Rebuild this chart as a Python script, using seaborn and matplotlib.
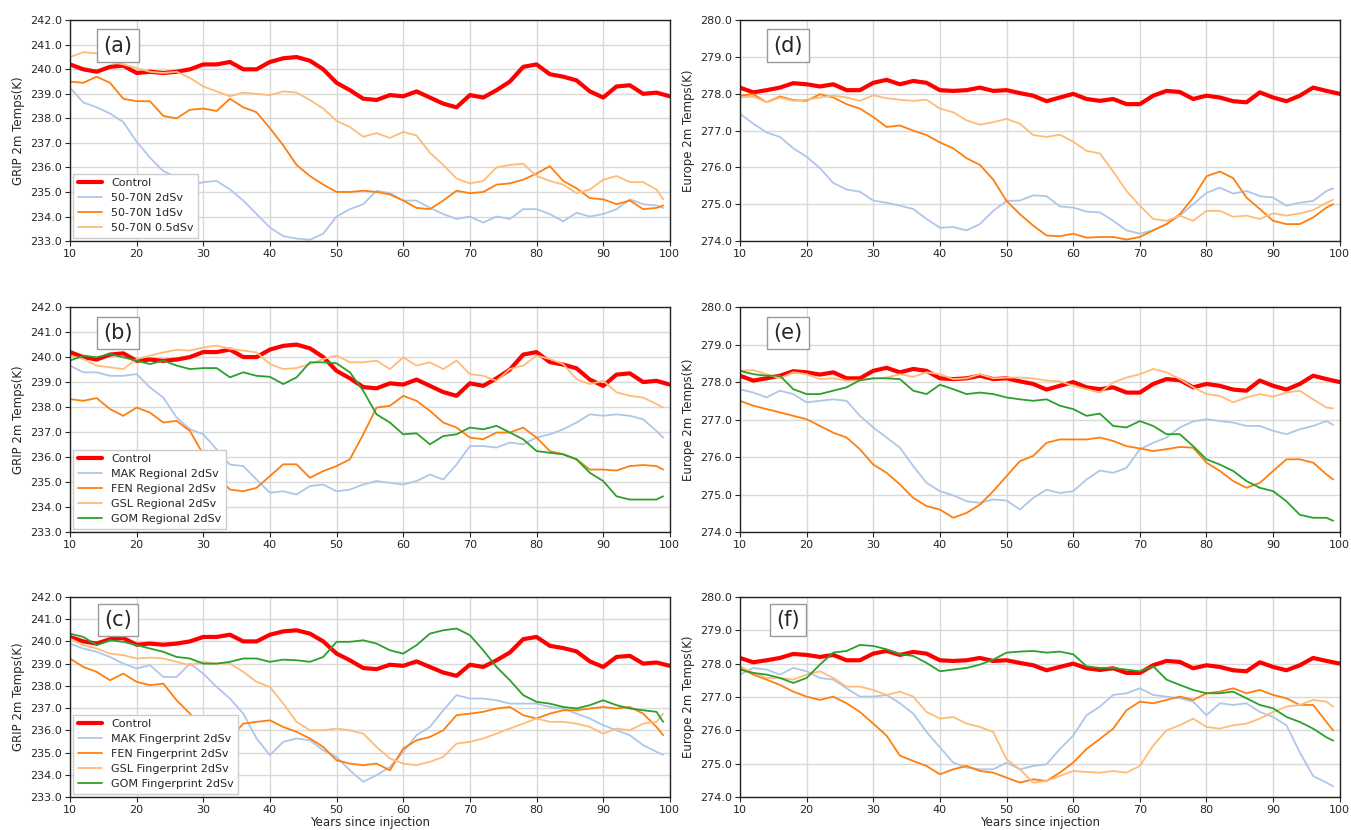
import numpy as np
import pandas as pd
import matplotlib
matplotlib.use("Agg")
import matplotlib.pyplot as plt
import seaborn as sns
from matplotlib.ticker import FormatStrFormatter

sns.set_style("ticks")
plt.rcParams['font.family'] = ['DejaVu Sans']

# ---------------- data ----------------
YEARS_CTL = list(range(10, 101, 2))
YEARS_EXP = list(range(10, 99, 2)) + [99]

GRIP_CONTROL = [240.2, 240.0, 239.9, 240.1, 240.15, 239.85, 239.9, 239.85, 239.9, 240.0,
                240.2, 240.2, 240.3, 240.0, 240.0, 240.3, 240.45, 240.5, 240.35, 240.0,
                239.45, 239.15, 238.8, 238.75, 238.95, 238.9, 239.1, 238.85, 238.6, 238.45,
                238.95, 238.85, 239.15, 239.5, 240.1, 240.2, 239.8, 239.7, 239.55, 239.1,
                238.85, 239.3, 239.35, 239.0, 239.05, 238.9]
EUR_CONTROL = [278.17, 278.04, 278.1, 278.17, 278.29, 278.26, 278.2, 278.26, 278.1, 278.1,
               278.3, 278.38, 278.26, 278.35, 278.3, 278.1, 278.08, 278.1, 278.17, 278.08,
               278.1, 278.02, 277.95, 277.8, 277.9, 278.0, 277.86, 277.81, 277.86, 277.72,
               277.72, 277.95, 278.08, 278.05, 277.86, 277.95, 277.9, 277.8, 277.77, 278.04,
               277.9, 277.8, 277.95, 278.17, 278.08, 278.0]

# panel (a): GRIP, 50-70N
GRIP_5070_2 = [239.25, 238.65, 238.45, 238.2, 237.85, 237.05, 236.4, 235.85, 235.6, 235.25,
               235.4, 235.45, 235.1, 234.65, 234.1, 233.55, 233.2, 233.1, 233.05, 233.3,
               234.0, 234.3, 234.5, 235.05, 234.95, 234.65, 234.65, 234.35, 234.1, 233.9,
               234.0, 233.75, 234.0, 233.9, 234.3, 234.3, 234.1, 233.8, 234.15, 234.0,
               234.1, 234.3, 234.7, 234.5, 234.45, 234.35]
GRIP_5070_1 = [239.5, 239.45, 239.7, 239.45, 238.8, 238.7, 238.7, 238.1, 238.0, 238.35,
               238.4, 238.3, 238.8, 238.45, 238.25, 237.6, 236.9, 236.1, 235.65, 235.3,
               235.0, 235.0, 235.05, 235.0, 234.9, 234.65, 234.35, 234.3, 234.65, 235.05,
               234.95, 235.0, 235.3, 235.35, 235.5, 235.75, 236.05, 235.45, 235.15, 234.75,
               234.7, 234.5, 234.65, 234.3, 234.35, 234.45]
GRIP_5070_05 = [240.5, 240.7, 240.65, 240.3, 240.2, 240.05, 239.9, 239.85, 239.9, 239.65,
                239.3, 239.1, 238.9, 239.05, 239.0, 238.95, 239.1, 239.05, 238.75, 238.4,
                237.9, 237.65, 237.25, 237.4, 237.2, 237.45, 237.3, 236.6, 236.1, 235.55,
                235.35, 235.45, 236.0, 236.1, 236.15, 235.65, 235.45, 235.3, 234.95, 235.1,
                235.5, 235.65, 235.4, 235.4, 235.1, 234.7]

# panel (d): Europe, 50-70N
EUR_5070_2 = [277.46, 277.19, 276.95, 276.83, 276.52, 276.29, 275.98, 275.58, 275.4, 275.34,
              275.1, 275.04, 274.96, 274.87, 274.6, 274.36, 274.38, 274.29, 274.46, 274.82,
              275.09, 275.1, 275.24, 275.22, 274.94, 274.91, 274.8, 274.78, 274.55, 274.29,
              274.2, 274.29, 274.46, 274.69, 275.0, 275.31, 275.45, 275.29, 275.36, 275.22,
              275.18, 274.96, 275.04, 275.09, 275.36, 275.43]
EUR_5070_1 = [277.95, 277.99, 277.77, 277.93, 277.83, 277.81, 277.99, 277.9, 277.72, 277.6,
              277.37, 277.1, 277.14, 277.0, 276.88, 276.68, 276.52, 276.25, 276.07, 275.67,
              275.09, 274.73, 274.42, 274.15, 274.13, 274.2, 274.09, 274.11, 274.11, 274.04,
              274.11, 274.29, 274.46, 274.73, 275.18, 275.76, 275.89, 275.71, 275.18, 274.87,
              274.55, 274.46, 274.46, 274.64, 274.91, 275.0]
EUR_5070_05 = [277.9, 277.93, 277.77, 277.9, 277.81, 277.84, 277.9, 277.95, 277.9, 277.81,
               277.96, 277.88, 277.84, 277.81, 277.84, 277.6, 277.5, 277.28, 277.16, 277.23,
               277.32, 277.19, 276.88, 276.83, 276.89, 276.7, 276.45, 276.38, 275.89, 275.36,
               274.96, 274.6, 274.55, 274.69, 274.55, 274.82, 274.82, 274.66, 274.69, 274.6,
               274.75, 274.69, 274.75, 274.84, 275.04, 275.12]

# panel (b): GRIP, Regional 2dSv
GRIP_REG_MAK = [239.66, 239.39, 239.39, 239.25, 239.25, 239.32, 238.79, 238.38, 237.58, 237.11,
                236.91, 236.31, 235.7, 235.64, 235.1, 234.57, 234.63, 234.5, 234.84, 234.9,
                234.63, 234.7, 234.9, 235.04, 234.97, 234.9, 235.04, 235.3, 235.1, 235.7,
                236.44, 236.44, 236.38, 236.58, 236.51, 236.78, 236.91, 237.11, 237.38, 237.71,
                237.65, 237.71, 237.65, 237.51, 237.04, 236.78]
GRIP_REG_FEN = [238.32, 238.25, 238.36, 237.92, 237.65, 237.98, 237.78, 237.38, 237.45, 237.04,
                236.11, 235.24, 234.7, 234.63, 234.77, 235.24, 235.71, 235.71, 235.17, 235.44,
                235.64, 235.91, 236.91, 237.98, 238.05, 238.45, 238.25, 237.85, 237.38, 237.18,
                236.78, 236.71, 236.98, 236.98, 237.18, 236.78, 236.24, 236.11, 235.91, 235.5,
                235.5, 235.46, 235.64, 235.68, 235.64, 235.5]
GRIP_REG_GSL = [240.06, 239.92, 239.66, 239.59, 239.52, 239.92, 240.06, 240.19, 240.29, 240.26,
                240.39, 240.46, 240.33, 240.26, 240.19, 239.72, 239.52, 239.56, 239.72, 239.92,
                240.06, 239.79, 239.79, 239.86, 239.52, 239.99, 239.66, 239.79, 239.52, 239.86,
                239.32, 239.25, 239.05, 239.52, 239.66, 240.06, 239.92, 239.72, 239.12, 238.92,
                239.05, 238.59, 238.45, 238.38, 238.12, 237.98]
GRIP_REG_GOM = [239.86, 240.06, 239.99, 240.12, 239.99, 239.86, 239.72, 239.86, 239.66, 239.52,
                239.56, 239.56, 239.19, 239.39, 239.25, 239.21, 238.92, 239.19, 239.79, 239.79,
                239.75, 239.39, 238.65, 237.71, 237.38, 236.91, 236.95, 236.51, 236.84, 236.91,
                237.18, 237.11, 237.25, 236.98, 236.71, 236.24, 236.17, 236.11, 235.91, 235.37,
                235.04, 234.43, 234.3, 234.3, 234.3, 234.43]

# panel (e): Europe, Regional 2dSv
EUR_REG_MAK = [277.81, 277.72, 277.59, 277.77, 277.68, 277.46, 277.5, 277.54, 277.5, 277.1,
               276.79, 276.52, 276.25, 275.76, 275.31, 275.09, 274.98, 274.82, 274.78, 274.87,
               274.84, 274.6, 274.91, 275.13, 275.04, 275.09, 275.4, 275.64, 275.58, 275.71,
               276.21, 276.38, 276.52, 276.79, 276.95, 277.01, 276.96, 276.92, 276.83, 276.83,
               276.7, 276.61, 276.74, 276.83, 276.96, 276.86]
EUR_REG_FEN = [277.5, 277.37, 277.28, 277.19, 277.1, 277.01, 276.83, 276.65, 276.52, 276.21,
               275.8, 275.58, 275.27, 274.91, 274.69, 274.6, 274.38, 274.51, 274.73, 275.09,
               275.49, 275.89, 276.03, 276.38, 276.47, 276.47, 276.47, 276.52, 276.43, 276.29,
               276.23, 276.16, 276.21, 276.27, 276.25, 275.85, 275.63, 275.36, 275.18, 275.31,
               275.63, 275.94, 275.94, 275.85, 275.54, 275.4]
EUR_REG_GSL = [278.3, 278.32, 278.21, 278.1, 278.26, 278.21, 278.08, 278.1, 278.04, 278.04,
               278.1, 278.12, 278.21, 278.14, 278.26, 278.21, 278.08, 278.1, 278.21, 278.1,
               278.12, 278.12, 278.1, 278.04, 278.02, 277.9, 277.81, 277.72, 277.99, 278.12,
               278.21, 278.35, 278.26, 278.08, 277.86, 277.68, 277.63, 277.46, 277.59, 277.68,
               277.61, 277.72, 277.77, 277.54, 277.32, 277.3]
EUR_REG_GOM = [278.3, 278.21, 278.17, 278.17, 277.81, 277.68, 277.68, 277.77, 277.86, 278.05,
               278.1, 278.1, 278.08, 277.77, 277.68, 277.93, 277.81, 277.68, 277.72, 277.68,
               277.59, 277.54, 277.5, 277.54, 277.37, 277.28, 277.1, 277.16, 276.83, 276.79,
               276.96, 276.83, 276.61, 276.61, 276.29, 275.94, 275.8, 275.63, 275.36, 275.18,
               275.09, 274.82, 274.46, 274.38, 274.38, 274.3]

# panel (c): GRIP, Fingerprint 2dSv
GRIP_FP_MAK = [239.9, 239.68, 239.53, 239.3, 239.0, 238.78, 238.93, 238.4, 238.4, 239.0,
               238.55, 237.95, 237.43, 236.75, 235.63, 234.88, 235.48, 235.63, 235.55, 235.1,
               234.8, 234.2, 233.68, 233.98, 234.35, 235.03, 235.78, 236.15, 236.9, 237.58,
               237.43, 237.43, 237.35, 237.2, 237.2, 237.2, 237.05, 236.98, 236.75, 236.53,
               236.23, 236.0, 235.78, 235.33, 235.03, 234.9]
GRIP_FP_FEN = [239.23, 238.85, 238.63, 238.25, 238.55, 238.18, 238.03, 238.1, 237.35, 236.75,
               236.0, 236.08, 235.63, 236.3, 236.38, 236.45, 236.15, 235.93, 235.63, 235.25,
               234.65, 234.5, 234.43, 234.5, 234.2, 235.18, 235.55, 235.7, 236.0, 236.68,
               236.75, 236.83, 236.98, 237.05, 236.68, 236.53, 236.75, 236.9, 236.9, 236.98,
               237.05, 236.98, 237.05, 236.75, 236.15, 235.78]
GRIP_FP_GSL = [240.13, 239.83, 239.68, 239.45, 239.38, 239.23, 239.27, 239.23, 239.08, 238.93,
               239.08, 239.0, 239.0, 238.63, 238.18, 237.95, 237.2, 236.38, 236.0, 236.0,
               236.08, 236.0, 235.85, 235.25, 234.73, 234.5, 234.43, 234.58, 234.8, 235.4,
               235.48, 235.63, 235.85, 236.08, 236.3, 236.53, 236.38, 236.38, 236.3, 236.15,
               235.85, 236.08, 236.0, 236.3, 236.38, 236.75]
GRIP_FP_GOM = [240.35, 240.2, 239.83, 240.05, 239.98, 239.83, 239.68, 239.53, 239.3, 239.23,
               239.0, 239.0, 239.08, 239.23, 239.23, 239.08, 239.18, 239.15, 239.08, 239.3,
               239.98, 239.98, 240.05, 239.9, 239.6, 239.45, 239.83, 240.35, 240.5, 240.58,
               240.28, 239.6, 238.85, 238.25, 237.58, 237.28, 237.2, 237.05, 236.98, 237.13,
               237.35, 237.13, 236.98, 236.9, 236.83, 236.38]

# panel (f): Europe, Fingerprint 2dSv
EUR_FP_MAK = [277.67, 277.87, 277.82, 277.67, 277.87, 277.77, 277.57, 277.52, 277.26, 277.01,
              277.01, 277.06, 276.81, 276.5, 275.95, 275.49, 275.03, 274.88, 274.83, 274.83,
              275.03, 274.83, 274.93, 274.98, 275.44, 275.84, 276.45, 276.71, 277.06, 277.11,
              277.26, 277.06, 277.01, 276.96, 276.86, 276.45, 276.81, 276.76, 276.81, 276.55,
              276.4, 276.15, 275.34, 274.63, 274.43, 274.32]
EUR_FP_FEN = [277.87, 277.67, 277.52, 277.36, 277.16, 277.01, 276.91, 277.01, 276.81, 276.55,
              276.2, 275.84, 275.24, 275.08, 274.93, 274.68, 274.83, 274.93, 274.78, 274.73,
              274.58, 274.43, 274.53, 274.48, 274.73, 275.03, 275.44, 275.74, 276.05, 276.6,
              276.86, 276.81, 276.91, 277.01, 276.91, 277.11, 277.16, 277.26, 277.11, 277.21,
              277.06, 276.96, 276.76, 276.76, 276.25, 276.0]
EUR_FP_GSL = [277.92, 277.72, 277.57, 277.57, 277.52, 277.67, 277.77, 277.57, 277.31, 277.31,
              277.21, 277.06, 277.16, 277.01, 276.55, 276.35, 276.4, 276.2, 276.1, 275.95,
              275.13, 274.83, 274.43, 274.48, 274.63, 274.78, 274.75, 274.73, 274.78, 274.73,
              274.93, 275.54, 276.0, 276.15, 276.35, 276.1, 276.05, 276.15, 276.2, 276.35,
              276.55, 276.71, 276.76, 276.91, 276.86, 276.71]
EUR_FP_GOM = [277.82, 277.72, 277.67, 277.57, 277.42, 277.57, 277.97, 278.33, 278.38, 278.56,
              278.53, 278.43, 278.28, 278.23, 278.02, 277.77, 277.82, 277.87, 277.97, 278.12,
              278.33, 278.36, 278.38, 278.33, 278.36, 278.28, 277.92, 277.87, 277.87, 277.82,
              277.77, 277.92, 277.52, 277.36, 277.21, 277.11, 277.11, 277.16, 276.96, 276.76,
              276.66, 276.4, 276.25, 276.05, 275.79, 275.69]

LABELS_A = ["50-70N 2dSv", "50-70N 1dSv", "50-70N 0.5dSv"]
LABELS_B = ["MAK Regional 2dSv", "FEN Regional 2dSv", "GSL Regional 2dSv", "GOM Regional 2dSv"]
LABELS_C = ["MAK Fingerprint 2dSv", "FEN Fingerprint 2dSv", "GSL Fingerprint 2dSv", "GOM Fingerprint 2dSv"]

GRIP_TICKS = list(range(233, 243))
EUR_TICKS = list(range(274, 281))
X_TICKS = list(range(10, 101, 10))

# ---------------- styling ----------------
C_CTRL = "#ff0000"
C_LBLUE = "#aec7e8"
C_ORANGE = "#ff7f0e"
C_LORANGE = "#ffbb78"
C_GREEN = "#2ca02c"

fig = plt.figure(figsize=(13.51, 8.30), dpi=100)

LEFT_X, RIGHT_X, W = 0.0518, 0.5477, 0.444
ROWS = [(0.7096, 0.266), (0.359, 0.271), (0.0398, 0.241)]


def make_ax(col, row):
    b, h = ROWS[row]
    return fig.add_axes([LEFT_X if col == 0 else RIGHT_X, b, W, h])


def style_ax(ax, ticks, ylabel, tag, xlabel=None):
    ax.set_xlim(10, 100)
    ax.set_ylim(ticks[0], ticks[-1])
    ax.set_xticks(X_TICKS)
    ax.set_yticks(ticks)
    ax.yaxis.set_major_formatter(FormatStrFormatter("%.1f"))
    ax.grid(True, color="#d9d9d9", lw=1.0)
    ax.set_axisbelow(True)
    ax.tick_params(labelsize=8, length=3.5, width=0.8, pad=2)
    ax.set_ylabel(ylabel, fontsize=8.5, labelpad=4)
    if xlabel:
        ax.set_xlabel(xlabel, fontsize=8.5, labelpad=1)
    else:
        ax.set_xlabel("")
    for s in ax.spines.values():
        s.set_color("#222222")
        s.set_linewidth(1.0)
    ax.text(0.08, 0.885, tag, transform=ax.transAxes, fontsize=15,
            ha="center", va="center",
            bbox=dict(boxstyle="square,pad=0.3", fc="white", ec="#999999", lw=1.0))


def draw(ax, x, y, color, lw, label=None):
    sns.lineplot(x=x, y=y, ax=ax, color=color, lw=lw, label=label, legend=False)


panels = [
    (0, 0, "GRIP 2m Temps(K)", "(a)", GRIP_TICKS, GRIP_CONTROL,
     [GRIP_5070_2, GRIP_5070_1, GRIP_5070_05], [C_LBLUE, C_ORANGE, C_LORANGE], LABELS_A, True, None),
    (0, 1, "GRIP 2m Temps(K)", "(b)", GRIP_TICKS, GRIP_CONTROL,
     [GRIP_REG_MAK, GRIP_REG_FEN, GRIP_REG_GSL, GRIP_REG_GOM],
     [C_LBLUE, C_ORANGE, C_LORANGE, C_GREEN], LABELS_B, True, None),
    (0, 2, "GRIP 2m Temps(K)", "(c)", GRIP_TICKS, GRIP_CONTROL,
     [GRIP_FP_MAK, GRIP_FP_FEN, GRIP_FP_GSL, GRIP_FP_GOM],
     [C_LBLUE, C_ORANGE, C_LORANGE, C_GREEN], LABELS_C, True, "Years since injection"),
    (1, 0, "Europe 2m Temps(K)", "(d)", EUR_TICKS, EUR_CONTROL,
     [EUR_5070_2, EUR_5070_1, EUR_5070_05], [C_LBLUE, C_ORANGE, C_LORANGE], LABELS_A, False, None),
    (1, 1, "Europe 2m Temps(K)", "(e)", EUR_TICKS, EUR_CONTROL,
     [EUR_REG_MAK, EUR_REG_FEN, EUR_REG_GSL, EUR_REG_GOM],
     [C_LBLUE, C_ORANGE, C_LORANGE, C_GREEN], LABELS_B, False, None),
    (1, 2, "Europe 2m Temps(K)", "(f)", EUR_TICKS, EUR_CONTROL,
     [EUR_FP_MAK, EUR_FP_FEN, EUR_FP_GSL, EUR_FP_GOM],
     [C_LBLUE, C_ORANGE, C_LORANGE, C_GREEN], LABELS_C, False, "Years since injection"),
]

for col, row, ylab, tag, ticks, ctrl, series, colors, labels, show_leg, xlab in panels:
    ax = make_ax(col, row)
    draw(ax, YEARS_CTL, ctrl, C_CTRL, 3.0, "Control")
    for s, c, lab in zip(series, colors, labels):
        draw(ax, YEARS_EXP, s, c, 1.3, lab)
    style_ax(ax, ticks, ylab, tag, xlab)
    if show_leg:
        ax.legend(loc="lower left", fontsize=8, frameon=True, fancybox=False,
                  edgecolor="#cccccc", framealpha=1.0, handlelength=2.2,
                  borderpad=0.4, labelspacing=0.45, borderaxespad=0.3)

fig.savefig("out.png", dpi=100)
